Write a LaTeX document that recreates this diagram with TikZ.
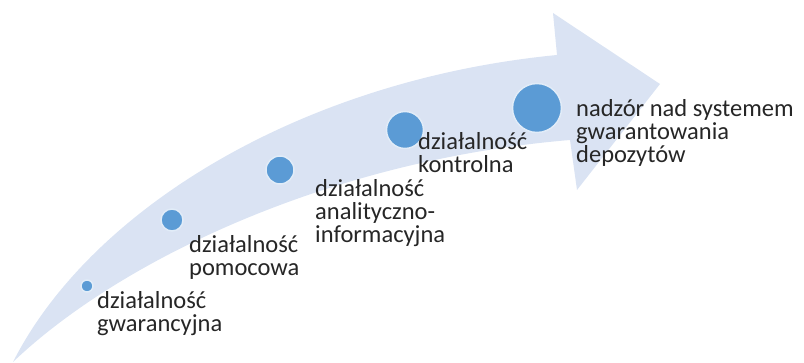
\documentclass[tikz,border=0pt]{standalone}
\usepackage{fontspec}
\setmainfont{Carlito}
\definecolor{bandblue}{RGB}{218,227,243}
\definecolor{dotblue}{RGB}{91,155,213}
\definecolor{rimblue}{RGB}{225,236,248}

\begin{document}
\begin{tikzpicture}[x=1pt,y=-1pt]
        \tikzset{circles/.style={draw=rimblue, circle, fill=dotblue, line width=1.5pt, inner sep=0pt}}
        \tikzset{texts/.style={anchor=base west, align=left, inner sep=0pt, text=black!85, font=\fontsize{24.5}{23}\selectfont}}
        \useasboundingbox (0,0) rectangle (804,363);
        % the bent arrow
        \fill [bandblue] (13,362) .. controls (90,210) and (300,80) .. (557,55)
            -- (553,13) -- (660,84) -- (577,190) -- (570,140)
            .. controls (330,160) and (120,260) .. (13,362) -- cycle;
        \node [circles, minimum size=12pt] (1) at (87,286){};
        \node [circles, minimum size=22pt] (2) at (172,220){};
        \node [circles, minimum size=28pt] (3) at (280,170){};
        \node [circles, minimum size=37pt] (4) at (405,130){};
        \node [circles, minimum size=49pt] (5) at (537,108){};
        % base anchor sits on the last line
        \node [texts] (t1) at (97,332) {działalność\\gwarancyjna};
        \node [texts] (t2) at (189,276) {działalność\\pomocowa};
        \node [texts] (t3) at (315,243) {działalność\\analityczno-\\informacyjna};
        \node [texts] (t4) at (418,173) {działalność\\kontrolna};
        \node [texts] (t5) at (576,163) {nadzór nad systemem\\gwarantowania\\depozytów};
    \end{tikzpicture}
\end{document}
